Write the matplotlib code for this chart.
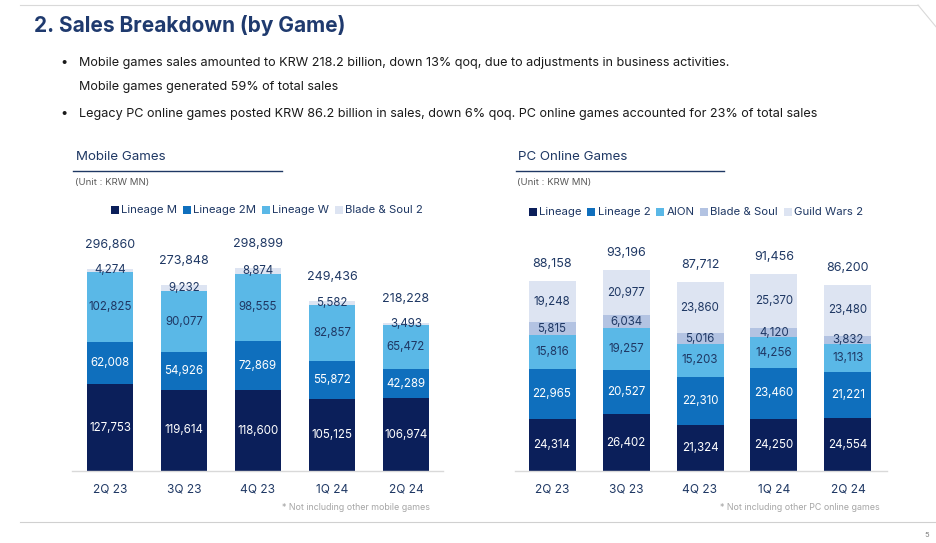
import matplotlib
matplotlib.use("Agg")
import matplotlib.pyplot as plt
from matplotlib.lines import Line2D
from matplotlib.patches import Rectangle
import numpy as np

plt.rcParams['font.family'] = ['Inter', 'DejaVu Sans']

quarters = ["2Q 23", "3Q 23", "4Q 23", "1Q 24", "2Q 24"]

mobile_series = ["Lineage M", "Lineage 2M", "Lineage W", "Blade & Soul 2"]
lineage_m = [127753, 119614, 118600, 105125, 106974]
lineage_2m = [62008, 54926, 72869, 55872, 42289]
lineage_w = [102825, 90077, 98555, 82857, 65472]
bns2 = [4274, 9232, 8874, 5582, 3493]
mobile_total = [296860, 273848, 298899, 249436, 218228]

pc_series = ["Lineage", "Lineage 2", "AION", "Blade & Soul", "Guild Wars 2"]
pc_lineage = [24314, 26402, 21324, 24250, 24554]
pc_lineage2 = [22965, 20527, 22310, 23460, 21221]
pc_aion = [15816, 19257, 15203, 14256, 13113]
pc_bns = [5815, 6034, 5016, 4120, 3832]
pc_gw2 = [19248, 20977, 23860, 25370, 23480]
pc_total = [88158, 93196, 87712, 91456, 86200]

NAVY = "#0b1f5a"
BLUE = "#0f6fbd"
LIGHT = "#5ab8e7"
LAV = "#b3c3e2"
PALE = "#dde4f2"
TXT = "#1f3864"

W, H = 937, 543
fig = plt.figure(figsize=(W / 100, H / 100), dpi=100)
fig.patch.set_facecolor("white")


def px(x, y):
    return x / W, 1 - y / H


def ftext(x, y, s, **kw):
    fx, fy = px(x, y)
    return fig.text(fx, fy, s, **kw)


def fline(x0, y0, x1, y1, **kw):
    a = px(x0, y0)
    b = px(x1, y1)
    fig.add_artist(Line2D([a[0], b[0]], [a[1], b[1]], transform=fig.transFigure, **kw))


# page decoration
fline(20, 5, 918, 5, color="#d9d9d9", lw=0.8)
fline(918, 5, 937, 28, color="#d9d9d9", lw=0.8)
fline(20, 522, 937, 522, color="#d0d0d0", lw=0.8)
ftext(927, 535, "5", fontsize=5.5, color="#808080", ha="center", va="center")

ftext(34, 25, "2. Sales Breakdown (by Game)", fontsize=15, fontweight="bold",
      color="#1f3a6e", ha="left", va="center")

bul = dict(fontsize=9.1, color="#1a1a1a", va="center", ha="left")
ftext(60, 63, "•", **bul)
ftext(79, 63, "Mobile games sales amounted to KRW 218.2 billion, down 13% qoq, due to adjustments in business activities.", **bul)
ftext(79, 87, "Mobile games generated 59% of total sales", **bul)
ftext(60, 114, "•", **bul)
ftext(79, 114, "Legacy PC online games posted KRW 86.2 billion in sales, down 6% qoq. PC online games accounted for 23% of total sales", **bul)

renderer = fig.canvas.get_renderer()


def panel(x0, x1, centers_first, bar_w_px, spacing, top_val, top_px, series_vals, series_names,
          colors, text_colors, totals, total_gap, title, title_x, line_x0, line_x1,
          legend_x, legend_y, foot, foot_x):
    base = 471
    top = 225
    ax = fig.add_axes([x0 / W, 1 - base / H, (x1 - x0) / W, (base - top) / H])
    scale = top_val / (base - top_px)  # value per px
    ax.set_ylim(0, scale * (base - top))
    left_units = (centers_first - x0) / spacing
    ax.set_xlim(-left_units, -left_units + (x1 - x0) / spacing)
    x = np.arange(len(quarters))
    width = bar_w_px / spacing
    bottom = np.zeros(len(quarters))
    for vals, col, tc in zip(series_vals, colors, text_colors):
        vals = np.array(vals, dtype=float)
        ax.bar(x, vals, width, bottom=bottom, color=col, edgecolor="none", zorder=2)
        for xi, v, b in zip(x, vals, bottom):
            ax.text(xi, b + v / 2, f"{int(v):,}", ha="center", va="center",
                    fontsize=8.3, color=tc, zorder=3)
        bottom += vals
    for xi, b, t in zip(x, bottom, totals):
        ax.text(xi, b + total_gap * scale, f"{t:,}", ha="center", va="center",
                fontsize=9.0, color=TXT)
    for s in ["top", "right", "left"]:
        ax.spines[s].set_visible(False)
    ax.spines["bottom"].set_color("#d9d9d9")
    ax.spines["bottom"].set_linewidth(1.0)
    ax.set_yticks([])
    ax.set_xticks(x)
    ax.set_xticklabels(quarters, fontsize=8.6, color=TXT)
    ax.tick_params(axis="x", length=0, pad=9)
    ax.patch.set_alpha(0)

    ftext(title_x, 157, title, fontsize=9.6, color=TXT, ha="left", va="center")
    fline(line_x0, 171, line_x1, 171, color="#1f3864", lw=1.0)
    ftext(title_x - 1, 183, "(Unit : KRW MN)", fontsize=6.9, color="#595959",
          ha="left", va="center")

    # legend
    lx = legend_x
    for name, col in zip(series_names, colors):
        a = px(lx, legend_y + 4)
        fig.add_artist(Rectangle(a, 8 / W, 8 / H, transform=fig.transFigure,
                                 color=col, lw=0))
        t = ftext(lx + 10, legend_y, name, fontsize=8.2, color=TXT,
                  ha="left", va="center")
        bb = t.get_window_extent(renderer=renderer)
        lx = lx + 10 + bb.width + 6

    ftext(foot_x, 507, foot, fontsize=6.4, color="#a6a6a6", ha="right", va="center")
    return ax


panel(72, 443, 110, 46, 74, 296860, 269,
      [lineage_m, lineage_2m, lineage_w, bns2], mobile_series,
      [NAVY, BLUE, LIGHT, PALE], ["white", "white", TXT, TXT],
      mobile_total, 24, "Mobile Games", 76, 73, 282, 111, 210,
      "* Not including other mobile games", 430)

panel(515, 887, 552, 47, 74, 93196, 270,
      [pc_lineage, pc_lineage2, pc_aion, pc_bns, pc_gw2], pc_series,
      [NAVY, BLUE, LIGHT, LAV, PALE], ["white", "white", TXT, TXT, TXT],
      pc_total, 17, "PC Online Games", 518, 516, 724, 529, 212,
      "* Not including other PC online games", 880)

fig.savefig("out.png", dpi=100)
